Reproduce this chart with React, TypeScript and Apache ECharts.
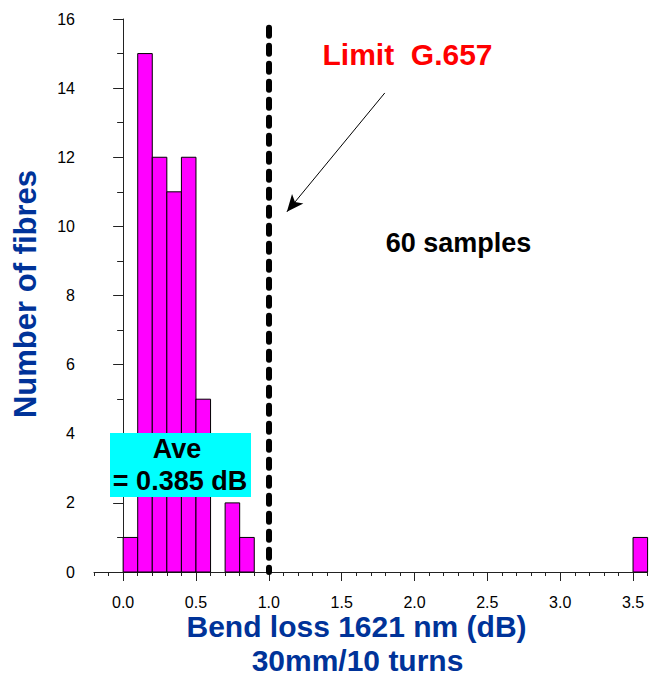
import React, { useEffect, useRef } from "react";
import * as echarts from "echarts";

// Histogram bins (dB) and counts
const binStart = [0.0, 0.1, 0.2, 0.3, 0.4, 0.5, 0.7, 0.8, 3.5];
const binEnd = [0.1, 0.2, 0.3, 0.4, 0.5, 0.6, 0.8, 0.9, 3.6];
const fibreCounts = [1, 15, 12, 11, 12, 5, 2, 1, 1];

// Axis ticks
const xMajorTicks = [0, 0.5, 1.0, 1.5, 2.0, 2.5, 3.0, 3.5];
const xTickLabels = ["0.0", "0.5", "1.0", "1.5", "2.0", "2.5", "3.0", "3.5"];
const yTickLabels = ["0", "2", "4", "6", "8", "10", "12", "14", "16"];

// Annotations (data coordinates)
const limitValue = 1.0;
const limitTop = 15.75;
const arrowFrom = [1.796, 13.86];
const arrowTo = [1.124, 10.42];

const FONT = "Liberation Sans, Arial, sans-serif";
const BLUE = "#003399";

export default function App() {
  const ref = useRef<HTMLDivElement>(null);
  useEffect(() => {
    if (!ref.current) return;
    const chart = echarts.init(ref.current, undefined, { renderer: "svg" });
    const data = binStart.map((s, i) => [s, binEnd[i], fibreCounts[i]]);
    chart.setOption({
      animation: false,
      backgroundColor: "#fff",
      grid: { left: 94, right: 14.4, top: 19, bottom: 103, containLabel: false },
      xAxis: [
        {
          type: "value",
          min: -0.2,
          max: 3.6,
          interval: 0.1,
          axisLine: { show: true, lineStyle: { color: "#222", width: 1 } },
          axisTick: { show: true, length: 4, lineStyle: { color: "#222" } },
          axisLabel: {
            show: true,
            margin: 22,
            fontSize: 16,
            fontFamily: FONT,
            color: "#000",
            formatter: (v: number) => {
              const idx = xMajorTicks.findIndex((t) => Math.abs(t - v) < 1e-6);
              return idx >= 0 ? xTickLabels[idx] : "";
            },
          },
          splitLine: { show: false },
        },
        {
          type: "value",
          min: -0.2,
          max: 3.6,
          position: "bottom",
          axisLine: { show: false },
          axisTick: { show: true, length: 9, customValues: xMajorTicks, lineStyle: { color: "#222" } },
          axisLabel: { show: false },
          splitLine: { show: false },
        },
      ],
      yAxis: {
        type: "value",
        min: 0,
        max: 16,
        interval: 2,
        axisLine: { show: true, lineStyle: { color: "#222", width: 1 } },
        axisTick: { show: true, length: 10, lineStyle: { color: "#222" } },
        minorTick: { show: true, splitNumber: 2, length: 6, lineStyle: { color: "#222" } },
        axisLabel: {
          margin: 19,
          fontSize: 16,
          fontFamily: FONT,
          color: "#000",
          formatter: (v: number) => yTickLabels[Math.round(v / 2)] ?? String(v),
        },
        splitLine: { show: false },
      },
      series: [
        {
          type: "custom",
          xAxisIndex: 0,
          yAxisIndex: 0,
          data,
          encode: { x: [0, 1], y: 2 },
          renderItem: (params: any, api: any) => {
            const p0 = api.coord([api.value(0), api.value(2)]);
            const p1 = api.coord([api.value(1), 0]);
            return {
              type: "rect",
              shape: { x: p0[0], y: p0[1], width: p1[0] - p0[0], height: p1[1] - p0[1] },
              style: { fill: "#FF00FF", stroke: "#000", lineWidth: 1 },
            };
          },
          markLine: {
            silent: true,
            animation: false,
            symbol: ["none", "none"],
            label: { show: false },
            emphasis: { disabled: true },
            data: [
              [
                {
                  coord: [limitValue, limitTop],
                  symbol: "none",
                  lineStyle: { color: "#000", width: 6, type: [8, 10], cap: "round" },
                },
                {
                  coord: [limitValue, 0],
                  symbol: "none",
                  lineStyle: { color: "#000", width: 6, type: [8, 10], cap: "round" },
                },
              ],
              [
                {
                  coord: arrowFrom,
                  symbol: "none",
                  lineStyle: { color: "#000", width: 1, type: "solid" },
                },
                {
                  coord: arrowTo,
                  symbol: "arrow",
                  symbolSize: [11, 17],
                  lineStyle: { color: "#000", width: 1, type: "solid" },
                },
              ],
            ],
          },
        },
      ],
      graphic: [
        {
          type: "rect",
          z: 100,
          shape: { x: 110, y: 433, width: 141, height: 64 },
          style: { fill: "#00FFFF" },
        },
        {
          type: "text",
          z: 101,
          x: 177,
          y: 449,
          style: {
            text: "Ave",
            fill: "#000",
            fontSize: 27,
            fontWeight: "bold",
            fontFamily: FONT,
            align: "center",
            verticalAlign: "middle",
          },
        },
        {
          type: "text",
          z: 101,
          x: 180,
          y: 481,
          style: {
            text: "= 0.385 dB",
            fill: "#000",
            fontSize: 27,
            fontWeight: "bold",
            fontFamily: FONT,
            align: "center",
            verticalAlign: "middle",
          },
        },
        {
          type: "text",
          z: 101,
          x: 407.5,
          y: 54,
          style: {
            text: "Limit  G.657",
            fill: "#FF0000",
            fontSize: 30,
            fontWeight: "bold",
            fontFamily: FONT,
            align: "center",
            verticalAlign: "middle",
          },
        },
        {
          type: "text",
          z: 101,
          x: 458.5,
          y: 242.5,
          style: {
            text: "60 samples",
            fill: "#000",
            fontSize: 27,
            fontWeight: "bold",
            fontFamily: FONT,
            align: "center",
            verticalAlign: "middle",
          },
        },
        {
          type: "text",
          z: 101,
          x: 356.5,
          y: 626,
          style: {
            text: "Bend loss 1621 nm (dB)",
            fill: BLUE,
            fontSize: 30,
            fontWeight: "bold",
            fontFamily: FONT,
            align: "center",
            verticalAlign: "middle",
          },
        },
        {
          type: "text",
          z: 101,
          x: 357.5,
          y: 660,
          style: {
            text: "30mm/10 turns",
            fill: BLUE,
            fontSize: 30,
            fontWeight: "bold",
            fontFamily: FONT,
            align: "center",
            verticalAlign: "middle",
          },
        },
        {
          type: "text",
          z: 101,
          x: 25,
          y: 294,
          rotation: Math.PI / 2,
          style: {
            text: "Number of fibres",
            fill: BLUE,
            fontSize: 31,
            fontWeight: "bold",
            fontFamily: FONT,
            align: "center",
            verticalAlign: "middle",
          },
        },
      ],
    });
    return () => chart.dispose();
  }, []);
  return (
    <div
      ref={ref}
      style={{ position: "fixed", left: 0, top: 0, width: 662, height: 675, background: "#fff" }}
    />
  );
}
